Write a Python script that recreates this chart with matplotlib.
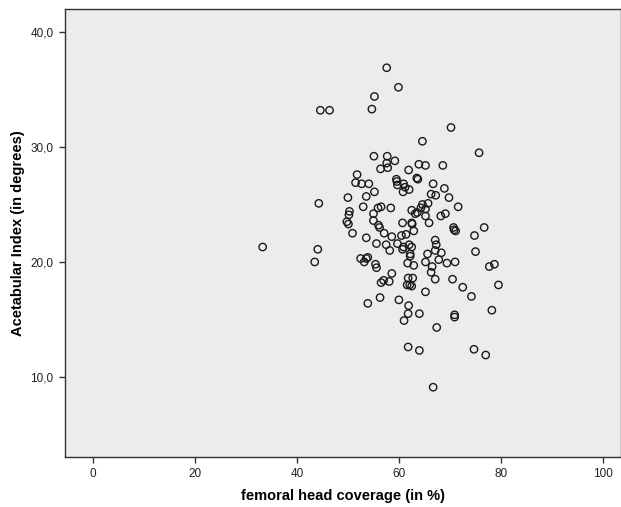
import matplotlib
matplotlib.use("Agg")
import matplotlib.pyplot as plt
from matplotlib.ticker import FuncFormatter

plt.rcParams['font.family'] = ['Liberation Sans', 'DejaVu Sans']

# femoral head coverage (%) and acetabular index (degrees)
coverage = [57.6, 59.9, 55.2, 44.6, 46.4, 54.7, 70.2, 64.6, 75.7, 55.1,
            57.7, 59.2, 57.6, 63.9, 65.2, 68.6, 56.4, 57.8, 61.9, 51.8,
            59.5, 59.6, 63.5, 63.7, 51.5, 52.7, 54.1, 59.7, 60.9, 66.7,
            61.2, 62.0, 60.8, 55.2, 68.9, 66.3, 67.2, 53.6, 50.0, 69.8,
            44.3, 65.7, 64.6, 56.5, 55.9, 53.0, 58.4, 71.6, 62.5, 64.3,
            65.2, 63.6, 63.2, 55.0, 50.3, 50.2, 69.1, 68.2, 65.2, 49.8,
            55.0, 60.7, 62.5, 62.6, 65.9, 50.1, 56.0, 56.2, 76.7, 70.7,
            70.8, 71.1, 62.9, 50.9, 57.1, 74.8, 60.5, 61.4, 58.6, 53.6,
            67.1, 67.3, 55.6, 57.5, 59.7, 62.0, 62.5, 60.9, 60.7, 33.3,
            44.1, 58.2, 75.0, 67.1, 68.3, 65.6, 62.2, 62.2, 43.5, 52.5,
            53.6, 53.9, 53.2, 67.8, 71.0, 69.4, 65.2, 61.7, 62.9, 66.5,
            78.7, 77.7, 55.4, 55.6, 58.6, 66.3, 57.0, 56.5, 58.1, 61.8,
            62.7, 67.1, 70.5, 61.6, 62.1, 62.5, 79.5, 72.5, 65.2, 74.2,
            56.3, 60.0, 53.9, 61.9, 61.8, 64.0, 70.9, 70.9, 78.2, 61.0,
            67.4, 61.8, 64.0, 74.7, 77.0, 66.7]
acetabular_index = [36.9, 35.2, 34.4, 33.2, 33.2, 33.3, 31.7, 30.5, 29.5, 29.2,
                    29.2, 28.8, 28.6, 28.5, 28.4, 28.4, 28.1, 28.2, 28.0, 27.6,
                    27.2, 27.0, 27.3, 27.2, 26.9, 26.8, 26.8, 26.7, 26.8, 26.8,
                    26.5, 26.3, 26.1, 26.1, 26.4, 25.9, 25.8, 25.7, 25.6, 25.6,
                    25.1, 25.1, 25.0, 24.8, 24.7, 24.8, 24.7, 24.8, 24.5, 24.7,
                    24.6, 24.3, 24.2, 24.2, 24.4, 24.1, 24.2, 24.0, 24.0, 23.5,
                    23.6, 23.4, 23.4, 23.3, 23.4, 23.3, 23.2, 23.0, 23.0, 23.0,
                    22.8, 22.7, 22.7, 22.5, 22.5, 22.3, 22.3, 22.4, 22.2, 22.1,
                    21.9, 21.5, 21.6, 21.5, 21.6, 21.5, 21.3, 21.3, 21.1, 21.3,
                    21.1, 21.0, 20.9, 21.0, 20.8, 20.7, 20.7, 20.5, 20.0, 20.3,
                    20.3, 20.4, 20.0, 20.2, 20.0, 19.9, 20.0, 19.9, 19.7, 19.6,
                    19.8, 19.6, 19.8, 19.5, 19.0, 19.1, 18.4, 18.2, 18.3, 18.6,
                    18.6, 18.5, 18.5, 18.0, 18.0, 17.9, 18.0, 17.8, 17.4, 17.0,
                    16.9, 16.7, 16.4, 16.2, 15.5, 15.5, 15.4, 15.2, 15.8, 14.9,
                    14.3, 12.6, 12.3, 12.4, 11.9, 9.1]

x_ticks = [0, 20, 40, 60, 80, 100]
y_ticks = [10, 20, 30, 40]

fig = plt.figure(figsize=(6.21, 5.07), dpi=100)
ax = fig.add_axes([0.104, 0.098, 0.896, 0.884])
ax.set_facecolor('#ececec')

ax.scatter(coverage, acetabular_index, s=28, facecolors='none',
           edgecolors='#1a1a1a', linewidths=1.0)

ax.set_xlim(-5.5, 103.5)
ax.set_ylim(3.0, 42.0)
ax.set_xticks(x_ticks)
ax.set_yticks(y_ticks)
ax.yaxis.set_major_formatter(FuncFormatter(lambda v, p: f"{v:.1f}".replace('.', ',')))
ax.tick_params(labelsize=8.5, length=4.5, width=1, color='#333333', labelcolor='#222222')

for s in ax.spines.values():
    s.set_color('#333333')
    s.set_linewidth(1)

ax.set_xlabel('femoral head coverage (in %)', fontsize=10.5, fontweight='bold', labelpad=6)
ax.set_ylabel('Acetabular Index (in degrees)', fontsize=10.5, fontweight='bold', labelpad=4)

fig.savefig('out.png', dpi=100)
